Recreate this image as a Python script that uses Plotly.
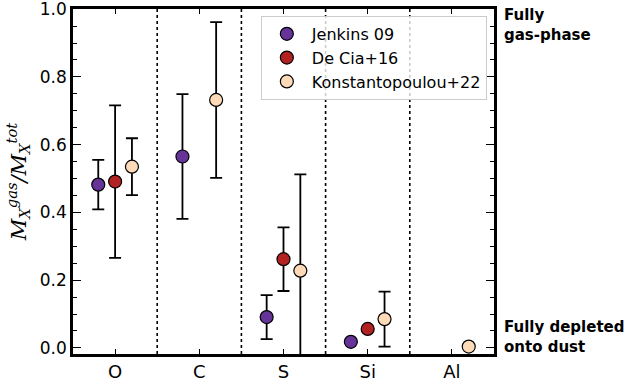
import plotly.graph_objects as go

elements = ["O", "C", "S", "Si", "Al"]

jenkins_val = [0.482, 0.565, 0.091, 0.018, None]
jenkins_err = [0.073, 0.184, 0.065, 0.0, None]

decia_val = [0.491, None, 0.262, 0.056, None]
decia_err = [0.225, None, 0.094, 0.0, None]

konst_val = [0.535, 0.732, 0.228, 0.085, 0.004]
konst_err = [0.084, 0.230, 0.284, 0.081, 0.0]

series = [
    ("Jenkins 09", jenkins_val, jenkins_err, "#663399", -0.2),
    ("De Cia+16", decia_val, decia_err, "#b22222", 0.0),
    ("Konstantopoulou+22", konst_val, konst_err, "#ffdab9", 0.2),
]

FONT = "DejaVu Sans"
fig = go.Figure()
for i, (name, vals, errs, col, off) in enumerate(series):
    xs = [j + off for j, v in enumerate(vals) if v is not None]
    ys = [v for v in vals if v is not None]
    es = [e for v, e in zip(vals, errs) if v is not None]
    fig.add_trace(go.Scatter(
        x=xs, y=ys, mode="markers", name=name,
        marker=dict(size=13, color=col, line=dict(color="black", width=1.2)),
        error_y=dict(type="data", array=es, visible=True, color="black",
                     thickness=1.8, width=6),
    ))

for j in range(len(elements) - 1):
    fig.add_shape(type="line", x0=j + 0.5, x1=j + 0.5, xref="x", yref="paper",
                  y0=0, y1=1, line=dict(color="black", width=1.6, dash="dot"), layer="below")

fig.add_annotation(x=1.018, y=1.015, xref="paper", yref="paper", xanchor="left", yanchor="top",
                   text="<b>Fully<br>gas-phase</b>", showarrow=False, align="left",
                   font=dict(family=FONT, size=15, color="black"))
fig.add_annotation(x=1.018, y=-0.012, xref="paper", yref="paper", xanchor="left", yanchor="bottom",
                   text="<b>Fully depleted<br>onto dust</b>", showarrow=False, align="left",
                   font=dict(family=FONT, size=15, color="black"))

fig.update_layout(
    width=636, height=386,
    margin=dict(l=73, r=142, t=9, b=32, autoexpand=False),
    plot_bgcolor="white", paper_bgcolor="white",
    font=dict(family=FONT, size=16, color="black"),
    showlegend=True,
    legend=dict(x=0.983, y=0.98, xanchor="right", yanchor="top",
                bordercolor="#cccccc", borderwidth=1, bgcolor="rgba(255,255,255,0.8)",
                font=dict(family=FONT, size=16), itemwidth=40),
    xaxis=dict(range=[-0.5, 4.5], tickmode="array", tickvals=list(range(len(elements))),
               ticktext=elements, showgrid=False, zeroline=False, showline=True,
               linecolor="black", linewidth=2.5, mirror="ticks", ticks="inside",
               ticklen=5, tickwidth=1, tickcolor="black", tickfont=dict(size=18),
               automargin=False),
    yaxis=dict(range=[-0.018, 1.0005], tickmode="array",
               tickvals=[0.0, 0.2, 0.4, 0.6, 0.8, 1.0],
               ticktext=["0.0", "0.2", "0.4", "0.6", "0.8", "1.0"], showgrid=False,
               zeroline=False, showline=True, linecolor="black", linewidth=2.5,
               mirror="ticks", ticks="inside", ticklen=8, tickwidth=1, tickcolor="black",
               tickfont=dict(size=17), automargin=False, ticklabeloverflow="allow",
               minor=dict(dtick=0.05, ticks="inside", ticklen=4, tickwidth=1, tickcolor="black"),
               title=dict(text="<i>M</i><sub><i>X</i></sub><sup><i>gas</i></sup><i>/M</i><sub><i>X</i></sub><sup><i>tot</i></sup>",
                          font=dict(family="DejaVu Serif", size=21), standoff=8)),
)

fig.write_html("out.html")
